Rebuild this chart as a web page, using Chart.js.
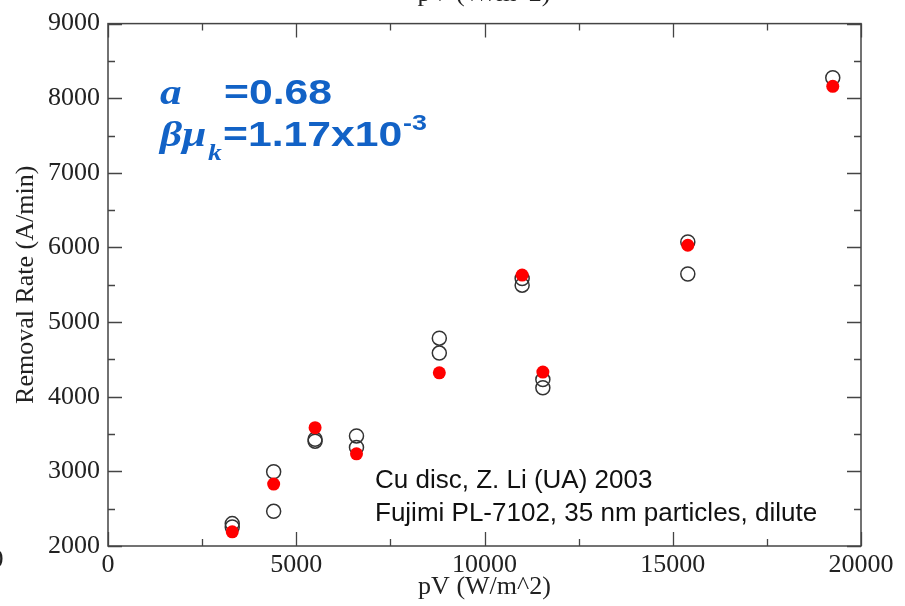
<!DOCTYPE html>
<html>
<head>
<meta charset="utf-8">
<script src="https://cdn.jsdelivr.net/npm/chart.js@4.4.1/dist/chart.umd.min.js"></script>
<style>
  html, body { margin: 0; padding: 0; background: #fff; }
  #grafico { display: block; }
</style>
</head>
<body>
<canvas id="grafico" width="905" height="606"></canvas>
<script>
// Datos (pV en W/m^2, tasa de remocion en A/min)
const pvMedidos = [3300, 3300, 4400, 4400, 5500, 5500, 6600, 6600, 8800, 8800,
                   11000, 11000, 11550, 11550, 15400, 15400, 19250];
const tasaMedida = [2300, 2255, 2995, 2465, 3430, 3405, 3475, 3320, 4785, 4585,
                    5585, 5495, 4230, 4120, 6075, 5645, 8275];

const pvModelo = [3300, 4400, 5500, 6600, 8800, 11000, 11550, 15400, 19250];
const tasaModelo = [2190, 2830, 3585, 3235, 4320, 5630, 4330, 6030, 8160];

const ticksX = [0, 5000, 10000, 15000, 20000];
const ticksY = [2000, 3000, 4000, 5000, 6000, 7000, 8000, 9000];

const tituloX = 'pV (W/m^2)';
const tituloY = 'Removal Rate (A/min)';
const notas = ['Cu disc, Z. Li (UA) 2003', 'Fujimi PL-7102, 35 nm particles, dilute'];

const azul = '#1262c6';
const serif = 'Liberation Serif, Times New Roman, serif';
const sans = 'Liberation Sans, Arial, sans-serif';

// texto estirado en horizontal, como en la figura original
function textoAncho(ctx, texto, x, y, fuente, escala) {
    ctx.save();
    ctx.translate(x, y);
    ctx.scale(escala, 1);
    ctx.font = fuente;
    ctx.fillText(texto, 0, 0);
    ctx.restore();
}

// marco con marcas hacia adentro en los cuatro lados
const marcoPlugin = {
    id: 'marco',
    beforeDatasetsDraw(chart) {
        const ctx = chart.ctx;
        const a = chart.chartArea;
        const sx = chart.scales.x;
        const sy = chart.scales.y;

        ctx.save();
        ctx.strokeStyle = '#444';
        ctx.lineWidth = 1.5;
        ctx.strokeRect(a.left, a.top, a.right - a.left, a.bottom - a.top);

        ctx.lineWidth = 1.3;
        ctx.beginPath();
        for (let v = sx.min; v <= sx.max; v += 2500) {
            const px = Math.round(sx.getPixelForValue(v)) + 0.5;
            const largo = v % 5000 === 0 ? 14 : 7;
            ctx.moveTo(px, a.bottom); ctx.lineTo(px, a.bottom - largo);
            ctx.moveTo(px, a.top); ctx.lineTo(px, a.top + largo);
        }
        for (let v = sy.min; v <= sy.max; v += 500) {
            const py = Math.round(sy.getPixelForValue(v)) + 0.5;
            const largo = v % 1000 === 0 ? 14 : 7;
            ctx.moveTo(a.left, py); ctx.lineTo(a.left + largo, py);
            ctx.moveTo(a.right, py); ctx.lineTo(a.right - largo, py);
        }
        ctx.stroke();
        ctx.restore();
    },
    afterDraw(chart) {
        const ctx = chart.ctx;
        ctx.save();

        // restos de textos recortados en los bordes
        ctx.fillStyle = '#222';
        ctx.font = '26px ' + serif;
        ctx.textAlign = 'center';
        ctx.textBaseline = 'alphabetic';
        ctx.fillText(tituloX, 484, 1);
        ctx.textBaseline = 'middle';
        ctx.fillText('0', -3, 560);

        // notas del experimento
        ctx.textAlign = 'left';
        ctx.textBaseline = 'alphabetic';
        ctx.fillStyle = '#111';
        ctx.font = '26px ' + sans;
        ctx.fillText(notas[0], 375, 488);
        ctx.fillText(notas[1], 375, 521);

        // parametros del ajuste en azul
        ctx.fillStyle = azul;
        textoAncho(ctx, 'a', 160, 104, 'italic bold 36px ' + serif, 1.2);
        textoAncho(ctx, '=0.68', 224, 104, 'bold 35px ' + sans, 1.22);
        textoAncho(ctx, '\u03b2\u03bc', 160, 146, 'italic bold 36px ' + serif, 1.2);
        textoAncho(ctx, 'k', 208, 160, 'italic bold 23px ' + serif, 1.2);
        textoAncho(ctx, '=1.17x10', 223, 146, 'bold 35px ' + sans, 1.22);
        textoAncho(ctx, '-3', 403, 130, 'bold 22px ' + sans, 1.22);

        ctx.restore();
    }
};

const ctx = document.getElementById('grafico').getContext('2d');

new Chart(ctx, {
    type: 'scatter',
    data: {
        datasets: [
            {
                label: 'modelo',
                data: pvModelo.map((x, i) => ({ x: x, y: tasaModelo[i] })),
                pointStyle: 'circle',
                pointRadius: 6.5,
                pointBackgroundColor: '#ff0000',
                pointBorderColor: '#ff0000',
                pointBorderWidth: 0,
                order: 0
            },
            {
                label: 'medido',
                data: pvMedidos.map((x, i) => ({ x: x, y: tasaMedida[i] })),
                pointStyle: 'circle',
                pointRadius: 7,
                pointBackgroundColor: 'rgba(0,0,0,0)',
                pointBorderColor: '#333',
                pointBorderWidth: 1.5,
                order: 1
            }
        ]
    },
    options: {
        responsive: false,
        animation: false,
        layout: { padding: { left: 0, right: 44, top: 20, bottom: 0 } },
        plugins: {
            legend: { display: false },
            tooltip: { enabled: false }
        },
        scales: {
            x: {
                type: 'linear',
                min: 0,
                max: 20000,
                afterBuildTicks: (scale) => { scale.ticks = ticksX.map(v => ({ value: v })); },
                afterFit: (scale) => { scale.height = 60; },
                grid: { display: false, drawTicks: false },
                border: { display: false },
                ticks: {
                    padding: 4,
                    color: '#222',
                    maxRotation: 0,
                    callback: (v) => String(v),
                    font: { family: serif, size: 26 }
                },
                title: {
                    display: true,
                    text: tituloX,
                    color: '#222',
                    padding: { top: 0, bottom: 3 },
                    font: { family: serif, size: 26 }
                }
            },
            y: {
                type: 'linear',
                min: 2000,
                max: 9000,
                afterBuildTicks: (scale) => { scale.ticks = ticksY.map(v => ({ value: v })); },
                afterFit: (scale) => { scale.width = 108; },
                grid: { display: false, drawTicks: false },
                border: { display: false },
                ticks: {
                    padding: 8,
                    color: '#222',
                    callback: (v) => String(v),
                    font: { family: serif, size: 26 }
                },
                title: {
                    display: true,
                    text: tituloY,
                    color: '#222',
                    padding: { top: 11, bottom: 0 },
                    font: { family: serif, size: 26 }
                }
            }
        }
    },
    plugins: [marcoPlugin]
});
</script>
</body>
</html>
